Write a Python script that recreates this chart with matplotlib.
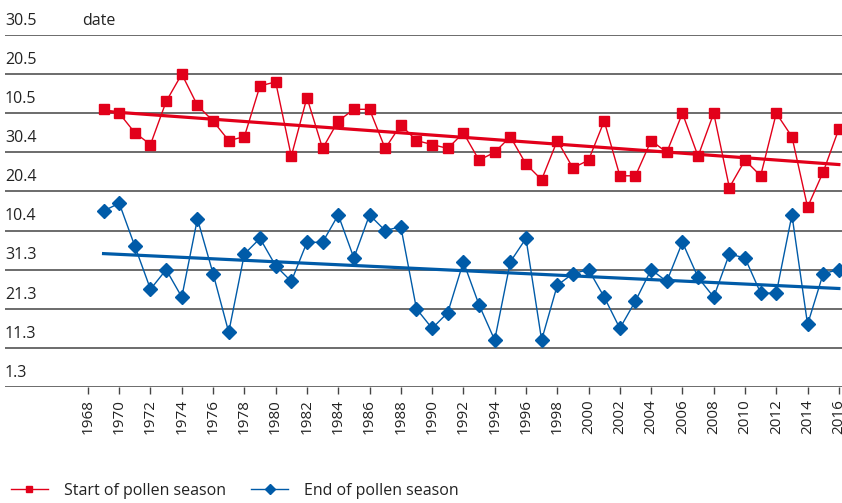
import numpy as np
import matplotlib
matplotlib.use("Agg")
import matplotlib.pyplot as plt

plt.rcParams['font.family'] = ['Open Sans', 'DejaVu Sans']

# days counted from 1 March (1.3 = 0)
years = list(range(1969, 2017))
start_season = [71, 70, 65, 62, 73, 80, 72, 68, 63, 64, 77, 78, 59, 74, 61, 68,
                71, 71, 61, 67, 63, 62, 61, 65, 58, 60, 64, 57, 53, 63, 56, 58,
                68, 54, 54, 63, 60, 70, 59, 70, 51, 58, 54, 70, 64, 46, 55, 66]
end_season = [45, 47, 36, 25, 30, 23, 43, 29, 14, 34, 38, 31, 27, 37, 37, 44,
              33, 44, 40, 41, 20, 15, 19, 32, 21, 12, 32, 38, 12, 26, 29, 30,
              23, 15, 22, 30, 27, 37, 28, 23, 34, 33, 24, 24, 44, 16, 29, 30]
y_ticks = [0, 10, 20, 30, 40, 50, 60, 70, 80, 90]
y_labels = ['1.3', '11.3', '21.3', '31.3', '10.4', '20.4', '30.4', '10.5', '20.5', '30.5']
x_ticks = list(range(1968, 2017, 2))

red = '#e2001a'
blue = '#005ba8'

fig = plt.figure(figsize=(8.42, 5.03), dpi=100)
ax = fig.add_axes([5 / 842, 116 / 503, 837 / 842, 352 / 503])

for v in y_ticks:
    ax.axhline(v, color='#444444', lw=1.1, zorder=1)

ax.plot(years, start_season, color=red, lw=1, marker='s', ms=7.5,
        label='Start of pollen season', zorder=3, clip_on=False)
ax.plot(years, end_season, color=blue, lw=1, marker='D', ms=7,
        label='End of pollen season', zorder=3, clip_on=False)

yrs = np.array(years)
p1 = np.polyfit(yrs, start_season, 1)
p2 = np.polyfit(yrs, end_season, 1)
ax.plot(yrs, np.polyval(p1, yrs), color=red, lw=2.3, zorder=2)
ax.plot(yrs, np.polyval(p2, yrs), color=blue, lw=2.3, zorder=2)

ax.set_xlim(1962.7, 2016.2)
ax.set_ylim(0, 90)
ax.set_yticks([])
ax.set_xticks(x_ticks)
ax.set_xticklabels([str(x) for x in x_ticks], rotation=90, fontsize=11, color='#222222')
ax.tick_params(axis='x', length=5, width=1, color='#444444', pad=4)
for s in ax.spines.values():
    s.set_visible(False)

for v, lab in zip(y_ticks, y_labels):
    ax.text(0, v + 1.6, lab, transform=ax.get_yaxis_transform(), fontsize=11.5,
            color='#222222', va='bottom', ha='left', clip_on=False)
ax.text(1967.6, 91.6, 'date', fontsize=11.5, color='#222222', va='bottom', ha='left', clip_on=False)

h1, = ax.plot([], [], color=red, lw=1, marker='s', ms=5)
h2, = ax.plot([], [], color=blue, lw=1, marker='D', ms=5)
fig.legend([h1, h2], ['Start of pollen season', 'End of pollen season'],
           loc='lower left', bbox_to_anchor=(-0.004, -0.02), ncol=2, frameon=False,
           fontsize=11.5, handlelength=2.3, handletextpad=1.0, columnspacing=1.6,
           labelcolor='#222222')

fig.savefig('out.png', dpi=100)
